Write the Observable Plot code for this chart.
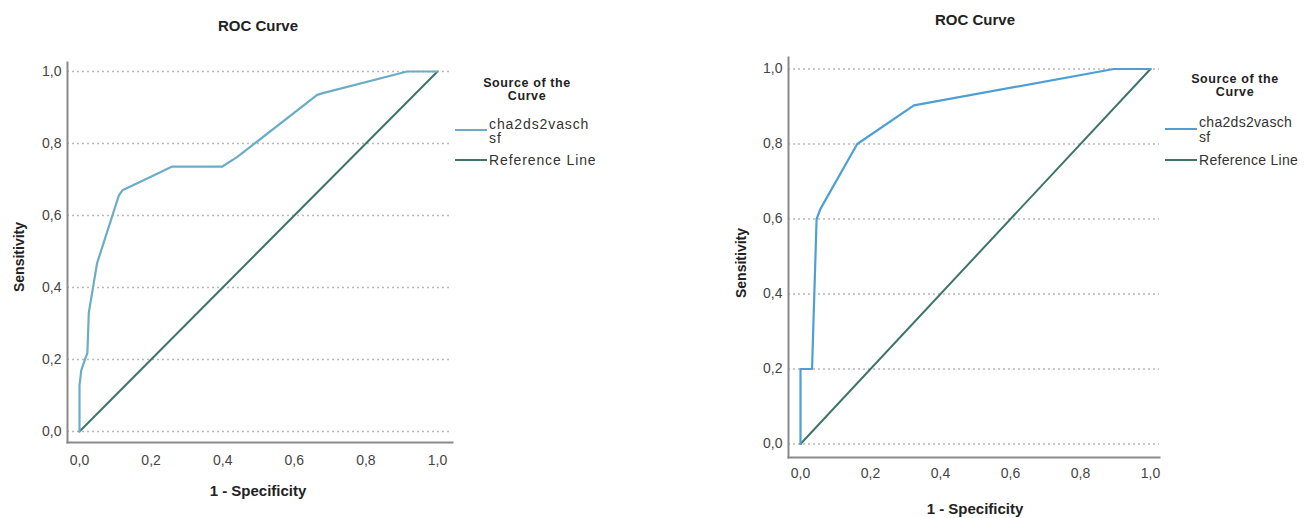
<!DOCTYPE html>
<html><head><meta charset="utf-8">
<script src="https://cdn.jsdelivr.net/npm/d3@7"></script>
<script src="https://cdn.jsdelivr.net/npm/@observablehq/plot@0.6"></script>
<style>
body{margin:0;background:#fff;font-family:"Liberation Sans",Arial,sans-serif;}
#wrap{position:relative;width:1304px;height:518px;overflow:hidden;background:#fff;}
#wrap svg{position:absolute;top:0;}
.t{position:absolute;white-space:nowrap;color:#222;line-height:1;}
.c{transform:translate(-50%,-50%);}
.l{transform:translate(0,-50%);}
.b{font-weight:bold;}
.sw{position:absolute;height:2px;}
</style></head><body><div id="wrap"></div>
<script>
// ---- data ----
const tickValues = [0, 0.2, 0.4, 0.6, 0.8, 1.0];
const leftFpr = [0, 0, 0.005, 0.017, 0.022, 0.026, 0.049, 0.11, 0.12, 0.198, 0.259, 0.399, 0.44, 0.664, 0.68, 0.915, 1];
const leftTpr = [0, 0.128, 0.17, 0.205, 0.217, 0.33, 0.467, 0.656, 0.67, 0.707, 0.736, 0.736, 0.762, 0.935, 0.94, 1, 1];
const rightFpr = [0, 0, 0.033, 0.046, 0.057, 0.162, 0.324, 0.895, 1];
const rightTpr = [0, 0.2, 0.2, 0.6, 0.627, 0.8, 0.903, 1, 1];
const refFpr = [0, 1];
const refTpr = [0, 1];
const titleText = "ROC Curve";
const xLabel = "1 - Specificity";
const yLabel = "Sensitivity";
const legendTitle = ["Source of the", "Curve"];
const seriesName = ["cha2ds2vasch", "sf"];
const refName = "Reference Line";

const wrap = document.getElementById("wrap");
const fmt = d => d.toFixed(1).replace(".", ",");
const toRows = (xs, ys) => xs.map((x, i) => ({fpr: x, tpr: ys[i]}));
const refRows = toRows(refFpr, refTpr);
const refColor = "#3f746a";

function chart(o) {
  const svg = Plot.plot({
    width: o.width, height: 518,
    marginLeft: o.ml, marginRight: o.mr, marginTop: o.mt, marginBottom: o.mb,
    x: {domain: [0, 1], insetLeft: o.il, insetRight: o.ir},
    y: {domain: [0, 1], insetTop: o.it, insetBottom: o.ib},
    style: {fontFamily: '"Liberation Sans", Arial, sans-serif', fontSize: "14px", color: "#444", background: "transparent", overflow: "visible"},
    marks: [
      Plot.gridY(tickValues, {stroke: "#b8b8b8", strokeOpacity: 1, strokeWidth: 1.3, strokeDasharray: "2,3"}),
      Plot.frame({anchor: "left", stroke: "#8a8a8a", strokeWidth: 2}),
      Plot.frame({anchor: "bottom", stroke: "#8a8a8a", strokeWidth: 2}),
      Plot.axisX(tickValues, {tickSize: 0, tickPadding: o.xpad, tickFormat: fmt, label: null, fill: "#444"}),
      Plot.axisY(tickValues, {tickSize: 0, tickPadding: 6, tickFormat: fmt, label: null, fill: "#444"}),
      Plot.line(refRows, {x: "fpr", y: "tpr", stroke: refColor, strokeWidth: 2}),
      Plot.line(o.rows, {x: "fpr", y: "tpr", stroke: o.color, strokeWidth: 2.2})
    ]
  });
  svg.style.left = o.left + "px";
  wrap.appendChild(svg);

  const add = (txt, x, y, cls, extra) => {
    const d = document.createElement("div");
    d.className = "t " + cls;
    d.textContent = txt;
    d.style.left = x + "px"; d.style.top = y + "px";
    if (extra) Object.assign(d.style, extra);
    wrap.appendChild(d);
  };
  const sw = (x1, x2, y, color) => {
    const d = document.createElement("div");
    d.className = "sw";
    d.style.left = x1 + "px"; d.style.width = (x2 - x1) + "px";
    d.style.top = (y - 1) + "px"; d.style.background = color;
    wrap.appendChild(d);
  };
  const legFont = {fontSize: "14px", letterSpacing: o.ls + "px", color: "#333"};
  add(titleText, o.tx, o.ty, "c b", {fontSize: "15px"});
  add(xLabel, o.tx, o.xly, "c b", {fontSize: "15px"});
  add(yLabel, o.ylx, o.yly, "c b", {fontSize: "14px", transform: "translate(-50%,-50%) rotate(-90deg)"});
  add(legendTitle[0], o.lgx, o.lg1, "c b", {fontSize: "12.5px", letterSpacing: "0.6px"});
  add(legendTitle[1], o.lgx, o.lg1 + 13, "c b", {fontSize: "12.5px", letterSpacing: "0.6px"});
  sw(o.sw1, o.sw2, o.s1y, o.color);
  add(seriesName[0], o.sw2 + 2, o.n1y, "l", legFont);
  add(seriesName[1], o.sw2 + 2, o.n1y + 14.5, "l", legFont);
  sw(o.sw1, o.sw2, o.s2y, refColor);
  add(refName, o.sw2 + 2, o.s2y, "l", legFont);
}

chart({
  left: 0, width: 650, ml: 67, mr: 198, mt: 62, mb: 76,
  il: 12, ir: 15, it: 9, ib: 11, xpad: 13, ls: 0.9,
  rows: toRows(leftFpr, leftTpr), color: "#6aaec6",
  tx: 258, ty: 25, xly: 490, ylx: 19, yly: 257,
  lgx: 527, lg1: 83, sw1: 455, sw2: 487, s1y: 130, n1y: 123.5, s2y: 160
});
chart({
  left: 650, width: 654, ml: 138, mr: 145, mt: 57, mb: 61,
  il: 12, ir: 9, it: 11.5, ib: 13.5, xpad: 11, ls: 0.3,
  rows: toRows(rightFpr, rightTpr), color: "#4e9fd4",
  tx: 975, ty: 19, xly: 508, ylx: 741, yly: 263,
  lgx: 1235, lg1: 79, sw1: 1165, sw2: 1197, s1y: 129, n1y: 122, s2y: 160
});
</script></body></html>
